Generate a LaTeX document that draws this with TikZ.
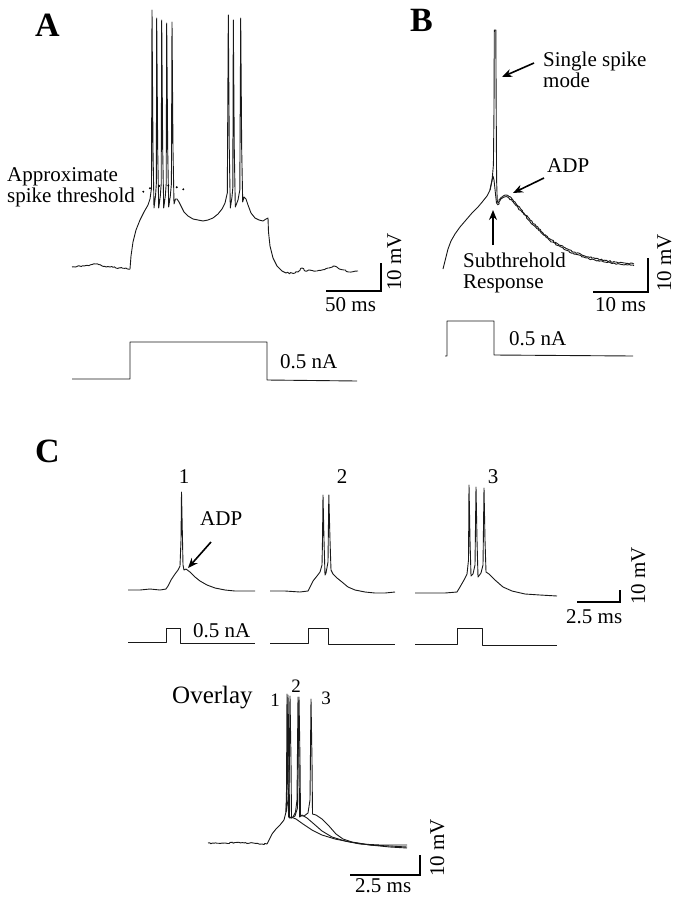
\documentclass[tikz,border=0pt]{standalone}
\usepackage{fontspec}
\setmainfont{Liberation Serif}
\usetikzlibrary{positioning,arrows.meta,decorations.pathmorphing}

\begin{document}
\begin{tikzpicture}[x=1pt,y=-1pt,
    trace/.style={black!90,line width=0.9pt,line join=round},
    noisy/.style={trace,decorate,decoration={random steps,segment length=1.5pt,amplitude=0.7pt}},
    bar/.style={line width=2.2pt},
    lbl/.style={font=\fontsize{21}{21}\selectfont,inner sep=0pt},
    small/.style={font=\fontsize{19}{19}\selectfont,inner sep=0pt},
    panel/.style={font=\fontsize{34}{34}\selectfont\bfseries,inner sep=0pt},
    arr/.style={line width=1.6pt,-{Stealth[length=10pt,width=8pt]}}]
  \pgfmathsetseed{7}
  \useasboundingbox (0,0) rectangle (680,899);

  \node[panel,anchor=base west] (pA) at (35,37) {A};
  \node[panel,anchor=base west] (pB) at (410,32) {B};
  \node[panel,anchor=base west] (pC) at (35,462) {C};

  % A
  \draw[noisy] (72,267) -- (84,266) -- (90,265) -- (96,264) -- (102,266) -- (110,267) -- (120,268) -- (130,269);
  \draw[trace] (130,269) -- (131,256) -- (133,242) -- (136,230) -- (140,220) -- (144,212) -- (148,205) -- (150,199)
    -- (151.5,188) -- (152,10) -- (153,150) -- (154,208) -- (155.5,196) -- (156.3,184) -- (156.7,18) -- (157.7,150)
    -- (158.7,208) -- (160.3,196) -- (161.2,184) -- (161.7,20) -- (162.7,150) -- (163.7,208) -- (165.3,196)
    -- (166.2,184) -- (166.7,23) -- (167.7,150) -- (168.7,207) -- (170.3,196) -- (171.4,184) -- (172,22)
    -- (173,150) -- (174,204) -- (175.5,199) -- (177,199) -- (179,202) -- (181,206) -- (184,212) -- (188,216)
    -- (193,219) -- (198,220) -- (203,221) -- (208,220) -- (213,218) -- (218,214) -- (222,209) -- (225,203)
    -- (227.3,193) -- (228.3,15) -- (229.3,150) -- (230.3,208) -- (232,197) -- (232.8,188) -- (233.3,20)
    -- (234.3,150) -- (235.3,207) -- (238,200) -- (239.8,190) -- (240.7,18) -- (241.7,150) -- (242.7,202)
    -- (244,197) -- (246,199) -- (248,205) -- (251,213) -- (255,218) -- (259,220) -- (263,221) -- (266,219)
    -- (268,218) -- (268.5,232) -- (270,246) -- (273,258) -- (277,266) -- (282,271) -- (286,273);
  \draw[noisy] (286,273) -- (292,273) -- (298,272) -- (302,268) -- (305,271) -- (310,270) -- (316,271) -- (322,270)
    -- (328,268) -- (333,266) -- (338,268) -- (344,270) -- (350,272) -- (358,271);
  \foreach \px/\py in {143.3/191.7,150/188.3,159.3/186,168.3/185.7,176.7/187.3,183.3/189.3}
    \fill (\px,\py) circle (1.1);
  \node[lbl,anchor=north west,align=left] (thr) at (7,167) {Approximate\\spike threshold};
  \draw[trace] (72,379) -- (130,379) -- (130,342) -- (267,342) -- (267,380) -- (357,381);
  \node[lbl,anchor=base west] (iA) at (280,368) {0.5 nA};

  \coordinate (sbAo) at (381,291);
  \coordinate (sbAt) at (381,263);
  \coordinate (sbAl) at (326,291);
  \draw[bar] (sbAt) -- (sbAo) -- (sbAl);
  \node[lbl,below right=6pt and -1pt of sbAl] (msA) {50 ms};
  \node[lbl,rotate=90,anchor=base west] (mvA) at ([xshift=20pt]sbAo) {10 mV};

  % B
  \draw[trace] (443,269) -- (444,265) -- (446,257) -- (448,249) -- (451,241) -- (455,234) -- (460,227) -- (466,220)
    -- (472,213) -- (478,207) -- (483,201) -- (487,196) -- (490,190) -- (492,181) -- (493.4,165) -- (494,110)
    -- (494.3,30) -- (495.8,30) -- (496.2,110) -- (496.6,180) -- (497.2,200) -- (498,203);
  \draw[trace] (490,190) -- (492,180) -- (493,176) -- (494,180) -- (495.5,194) -- (496.5,203) -- (498,205);
  \foreach \dy in {0,1.6}
    \draw[noisy,yshift=-\dy pt] (498,203) -- (500,199) -- (503,196) -- (506,195) -- (509,196.5) -- (513,200)
      -- (518,206) -- (524,213) -- (530,220) -- (536,226) -- (543,233) -- (550,239) -- (558,244) -- (566,248.5)
      -- (575,252.5) -- (585,256) -- (595,258.5) -- (605,260.5) -- (615,262) -- (625,263) -- (634,264);
  \draw[trace] (445,356) -- (447,356) -- (447,321) -- (494,321) -- (494,355) -- (633,356);
  \node[lbl,anchor=base west] (iB) at (509,345) {0.5 nA};

  \node[lbl,anchor=north west,align=left] (ssm) at (543,52) {Single spike\\mode};
  \node[lbl,anchor=base west] (adpB) at (547,172) {ADP};
  \node[lbl,anchor=north west,align=left] (sub) at (463,253) {Subthrehold\\Response};
  \coordinate (ssmT) at (534,63);
  \coordinate (ssmH) at (502,77);
  \coordinate (adpBT) at (544,178);
  \coordinate (adpBH) at (513,193);
  \coordinate (subT) at (493,245);
  \coordinate (subH) at (493,210);
  \draw[arr] (ssmT) -- (ssmH);
  \draw[arr] (adpBT) -- (adpBH);
  \draw[arr] (subT) -- (subH);

  \coordinate (sbBo) at (648,292);
  \coordinate (sbBt) at (648,258);
  \coordinate (sbBl) at (593,292);
  \draw[bar] (sbBt) -- (sbBo) -- (sbBl);
  \node[lbl,below right=5pt and 2pt of sbBl] (msB) {10 ms};
  \node[lbl,rotate=90,anchor=base west] (mvB) at ([xshift=23pt]sbBo) {10 mV};

  % C
  \draw[trace] (128,590) -- (140,590) -- (150,589) -- (160,590) -- (166,589) -- (168,586) -- (171,580) -- (175,574)
    -- (178,570) -- (180,566) -- (181,540) -- (181.5,492) -- (182.5,540) -- (183,565) -- (184,570) -- (186,569)
    -- (190,572) -- (195,577) -- (200,581) -- (207,585) -- (215,588) -- (225,590) -- (235,591) -- (245,591) -- (255,591);
  \draw[trace] (270,591) -- (285,591) -- (300,592) -- (308,591) -- (310,587) -- (313,581) -- (317,576) -- (320,572)
    -- (322,565) -- (322.5,540) -- (323,495) -- (324,540) -- (325,575) -- (326,573) -- (328,562) -- (328.8,495)
    -- (330,540) -- (331,570) -- (333,574) -- (337,578) -- (342,582) -- (348,587) -- (355,590) -- (365,592)
    -- (375,593) -- (385,593) -- (395,592);
  \draw[trace] (415,593) -- (430,593) -- (445,593) -- (457,592) -- (460,587) -- (464,580) -- (467,574) -- (468.5,560)
    -- (469,485) -- (470,540) -- (471,576) -- (473,574) -- (475,565) -- (476,487) -- (477,540) -- (478,577)
    -- (481,573) -- (483,565) -- (484,488) -- (485,540) -- (486,572) -- (489,574) -- (495,580) -- (503,587)
    -- (512,591) -- (525,594) -- (540,595) -- (557,596);
  \node[lbl,anchor=base] (n1) at (184,483) {1};
  \node[lbl,anchor=base] (n2) at (342,483) {2};
  \node[lbl,anchor=base] (n3) at (493,483) {3};
  \node[lbl,anchor=base west] (adpC) at (200,525) {ADP};
  \coordinate (adpCT) at (211,542);
  \coordinate (adpCH) at (188,568);
  \draw[arr] (adpCT) -- (adpCH);

  \draw[trace] (128,642) -- (166,642) -- (166,628) -- (180,628) -- (180,643) -- (255,643);
  \draw[trace] (270,643) -- (308,643) -- (308,628) -- (328,628) -- (328,644) -- (395,644);
  \draw[trace] (415,644) -- (457,644) -- (457,628) -- (482,628) -- (482,645) -- (557,645);
  \node[lbl,anchor=base west] (iC) at (193,637) {0.5 nA};

  \coordinate (sbCo) at (620,602);
  \coordinate (sbCt) at (620,590);
  \coordinate (sbCl) at (577,602);
  \draw[bar] (sbCt) -- (sbCo) -- (sbCl);
  \node[lbl,below right=7pt and -11pt of sbCl] (msC) {2.5 ms};
  \node[lbl,rotate=90,anchor=base west] (mvC) at (645,605) {10 mV};

  % Overlay
  \node[font=\fontsize{25}{25}\selectfont,inner sep=0pt,anchor=base west] (ovl) at (172,703) {Overlay};
  \node[small,anchor=base] (o1) at (275,706) {1};
  \node[small,anchor=base] (o2) at (296,692) {2};
  \node[small,anchor=base] (o3) at (326,704) {3};
  \draw[noisy] (208,843) -- (220,843.5) -- (235,842.5) -- (250,843) -- (262,844) -- (267,844);
  \draw[trace] (267,844) -- (269,840) -- (272,834) -- (276,829) -- (280,825) -- (284,820) -- (286,812);
  \draw[trace] (286,812) -- (287.5,780) -- (288,695) -- (289,760) -- (289.5,818) -- (291,817) -- (296,819)
    -- (303,824) -- (312,830) -- (322,835) -- (335,839) -- (350,842) -- (370,845) -- (390,846) -- (407,847);
  \draw[trace] (286,812) -- (288,800) -- (289.2,780) -- (290,696) -- (291,760) -- (291.5,818) -- (293,817)
    -- (295.5,812) -- (297,800) -- (298,697) -- (299,760) -- (299.6,817) -- (302,815) -- (307,818) -- (314,824)
    -- (322,831) -- (332,837) -- (345,841) -- (360,844) -- (380,845) -- (407,845);
  \draw[trace] (286,812) -- (286.5,790) -- (287,694) -- (288,760) -- (288.5,817) -- (291,818) -- (295,816)
    -- (297.5,808) -- (299,697) -- (300,760) -- (300.5,816) -- (304,816) -- (308,813) -- (310,800) -- (311,699)
    -- (312,760) -- (312.5,814) -- (316,815) -- (322,819) -- (329,826) -- (336,834) -- (343,839) -- (352,842)
    -- (370,845) -- (390,847) -- (407,848);

  \coordinate (sbOo) at (420,875);
  \coordinate (sbOt) at (420,855);
  \coordinate (sbOl) at (350,875);
  \draw[bar] (sbOt) -- (sbOo) -- (sbOl);
  \node[lbl,below right=3pt and 5pt of sbOl] (msO) {2.5 ms};
  \node[lbl,rotate=90,anchor=base west] (mvO) at (444,877) {10 mV};
\end{tikzpicture}
\end{document}
